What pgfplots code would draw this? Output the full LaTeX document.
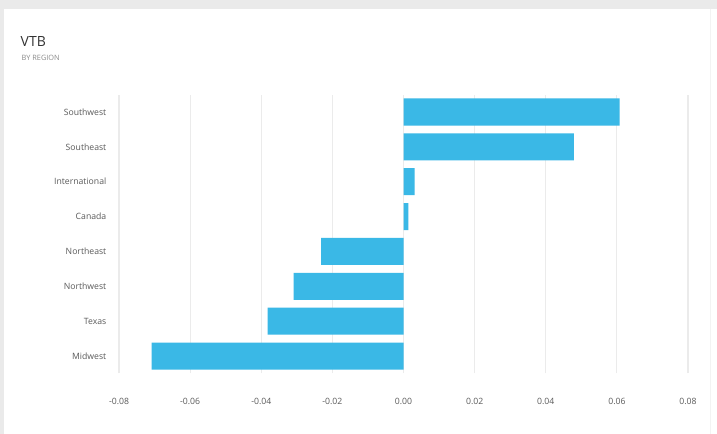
\documentclass[border=0pt]{standalone}
\usepackage{fontspec}
\setmainfont{Open Sans}
\usepackage{pgfplots}
\pgfplotsset{compat=1.18}
\definecolor{barblue}{RGB}{58,184,230}
\definecolor{cardbg}{RGB}{234,234,234}
\definecolor{txt}{RGB}{90,90,90}
\definecolor{gridc}{RGB}{235,235,235}
\begin{document}
\begin{tikzpicture}[x=0.75pt,y=0.75pt]
\useasboundingbox (0,0) rectangle (717,434);
\fill[cardbg] (0,0) rectangle (717,434);
\fill[white] (4,0) rectangle (717,425);
\draw[gridc!60, line width=0.6pt] (710,0) -- (710,425);
\node[anchor=base west,font=\fontsize{10.5}{12}\selectfont,text=black!80] at (16,387) {VTB};
\node[anchor=base west,font=\fontsize{5.5}{6}\selectfont,text=txt!70] at (17,373) {BY REGION};
\begin{axis}[
  at={(89.25pt,45.375pt)}, anchor=south west,
  scale only axis, width=426.75pt, height=209.2pt,
  xmin=-0.08, xmax=0.08, ymin=-0.5, ymax=7.5,
  scaled x ticks=false,
  xtick={-0.08,-0.06,-0.04,-0.02,0,0.02,0.04,0.06,0.08},
  xticklabels={-0.08,-0.06,-0.04,-0.02,0.00,0.02,0.04,0.06,0.08},
  ytick={0,...,7},
  yticklabels={Midwest,Texas,Northwest,Northeast,Canada,International,Southeast,Southwest},
  axis line style={draw=none},
  major tick length=0pt,
  xmajorgrids, grid style={gridc, line width=0.8pt},
  tick label style={font=\fontsize{6.5}{7}\selectfont, text=txt},
  xticklabel style={yshift=-15pt},
  yticklabel style={xshift=-6pt},
  /pgf/number format/assume math mode=true,
  clip=false,
]
\addplot[xbar, bar width=0.775, fill=barblue, draw=none] coordinates {
  (-0.0708,0) (-0.0382,1) (-0.0309,2) (-0.0232,3)
  (0.0014,4) (0.0031,5) (0.0479,6) (0.0608,7)
};
\end{axis}
\end{tikzpicture}
\end{document}
